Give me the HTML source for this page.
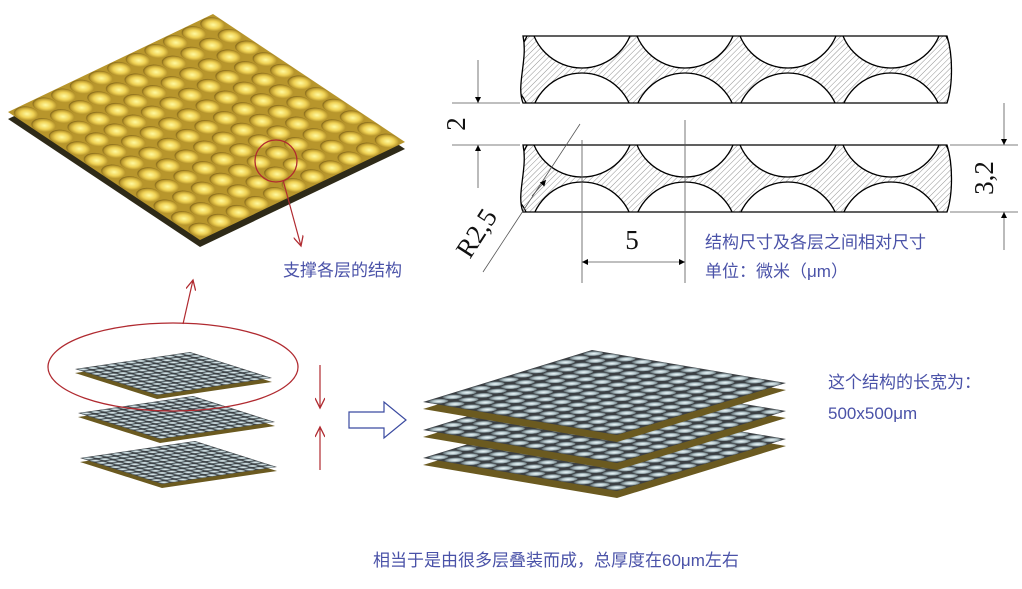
<!DOCTYPE html>
<html><head><meta charset="utf-8"><style>
html,body{margin:0;padding:0;background:#fff;}
svg{display:block;}
.cn{font-family:"Liberation Sans","Noto Sans CJK SC",sans-serif;fill:#4a52a8;font-size:17px;}
.sf{font-family:"Liberation Serif",serif;font-size:27px;fill:#111;}
</style></head><body>
<svg width="1022" height="589" viewBox="0 0 1022 589" xmlns="http://www.w3.org/2000/svg">
<defs>
 <radialGradient id="gg" cx="0.5" cy="0.55" r="0.55">
  <stop offset="0" stop-color="#fffaa0"/><stop offset="0.5" stop-color="#f0d255"/><stop offset="0.85" stop-color="#b8962c"/><stop offset="1" stop-color="#6e5514"/>
 </radialGradient>
 <pattern id="gp" patternUnits="userSpaceOnUse" width="0.0909" height="0.0909">
  <rect width="0.0909" height="0.0909" fill="#b8962c"/>
  <circle cx="0.0455" cy="0.0455" r="0.043" fill="url(#gg)"/>
 </pattern>
 <radialGradient id="sg" cx="0.5" cy="0.55" r="0.55">
  <stop offset="0" stop-color="#eef8fa"/><stop offset="0.5" stop-color="#b4c6cb"/><stop offset="0.85" stop-color="#6a777c"/><stop offset="1" stop-color="#3a4246"/>
 </radialGradient>
 <pattern id="sp" patternUnits="userSpaceOnUse" width="0.0833" height="0.0833">
  <rect width="0.0833" height="0.0833" fill="#3b3f43"/>
  <circle cx="0.0417" cy="0.0417" r="0.039" fill="url(#sg)"/>
 </pattern>
 <pattern id="hatch" patternUnits="userSpaceOnUse" width="4" height="4" patternTransform="rotate(45)">
  <rect width="4" height="4" fill="#fff"/><line x1="0" y1="0" x2="0" y2="4" stroke="#777" stroke-width="0.8"/>
 </pattern>
 <clipPath id="c1"><path d="M523,36 L947,36 C953,55 953,85 947,103 L523,103 C516,85 528,60 523,36Z"/></clipPath>
 <clipPath id="c2"><path d="M523,145 L947,145 C953,164 953,194 947,212 L523,212 C516,194 528,169 523,145Z"/></clipPath>
 <marker id="ar" viewBox="0 0 10 10" refX="10" refY="5" markerWidth="14" markerHeight="10" orient="auto" markerUnits="userSpaceOnUse"><path d="M0,0 L10,5 L0,10" fill="none" stroke="#b02a30" stroke-width="1.3"/></marker>
 <marker id="ab" viewBox="0 0 10 10" refX="10" refY="5" markerWidth="16" markerHeight="6" orient="auto" markerUnits="userSpaceOnUse"><path d="M0,0 L10,5 L0,10Z" fill="#000"/></marker>
</defs>

<!-- gold plate -->
<g transform="translate(0,7)"><g transform="matrix(205,-98,192,128,8,112)"><rect width="1" height="1" fill="#2e2a18"/></g></g>
<g transform="matrix(205,-98,192,128,8,112)"><rect width="1" height="1" fill="url(#gp)"/></g>

<!-- small stacked plates -->
<g transform="translate(0,4)"><g transform="matrix(115,-17,82,26,80,458)"><rect width="1" height="1" fill="#6b5a20"/></g></g>
<g transform="matrix(115,-17,82,26,80,458)"><rect width="1" height="1" fill="url(#sp)"/></g>
<g transform="translate(0,4)"><g transform="matrix(115,-17,82,26,78,413)"><rect width="1" height="1" fill="#6b5a20"/></g></g>
<g transform="matrix(115,-17,82,26,78,413)"><rect width="1" height="1" fill="url(#sp)"/></g>
<g transform="translate(0,4)"><g transform="matrix(115,-17,82,26,75,369)"><rect width="1" height="1" fill="#6b5a20"/></g></g>
<g transform="matrix(115,-17,82,26,75,369)"><rect width="1" height="1" fill="url(#sp)"/></g>

<!-- big stack -->
<g transform="translate(0,7)"><g transform="matrix(169,-52,194,33,423,458)"><rect width="1" height="1" fill="#6b5a20"/></g></g>
<g transform="matrix(169,-52,194,33,423,458)"><rect width="1" height="1" fill="url(#sp)"/></g>
<g transform="translate(0,7)"><g transform="matrix(169,-52,194,33,423,430)"><rect width="1" height="1" fill="#6b5a20"/></g></g>
<g transform="matrix(169,-52,194,33,423,430)"><rect width="1" height="1" fill="url(#sp)"/></g>
<g transform="translate(0,7)"><g transform="matrix(169,-52,194,33,423,402)"><rect width="1" height="1" fill="#6b5a20"/></g></g>
<g transform="matrix(169,-52,194,33,423,402)"><rect width="1" height="1" fill="url(#sp)"/></g>

<!-- red annotations -->
<circle cx="276" cy="161" r="21" fill="none" stroke="#b02a30" stroke-width="1.3"/>
<line x1="283" y1="180" x2="301" y2="246" stroke="#b02a30" stroke-width="1.2" marker-end="url(#ar)"/>
<line x1="183" y1="324" x2="193" y2="280" stroke="#b02a30" stroke-width="1.2" marker-end="url(#ar)"/>
<ellipse cx="173" cy="367" rx="125" ry="44" fill="none" stroke="#b02a30" stroke-width="1.3"/>
<line x1="320" y1="365" x2="320" y2="408" stroke="#b02a30" stroke-width="1.2" marker-end="url(#ar)"/>
<line x1="320" y1="470" x2="320" y2="427" stroke="#b02a30" stroke-width="1.2" marker-end="url(#ar)"/>
<path d="M349,412 L384,412 L384,402 L406,420 L384,438 L384,428 L349,428Z" fill="#fff" stroke="#3a4aa0" stroke-width="1.2"/>

<!-- technical drawing -->
<g clip-path="url(#c1)">
 <rect x="510" y="30" width="450" height="80" fill="url(#hatch)"/>
 <g fill="#fff" stroke="#000" stroke-width="1.3">
  <circle cx="479" cy="16" r="52"/><circle cx="582" cy="16" r="52"/><circle cx="685" cy="16" r="52"/><circle cx="788" cy="16" r="52"/><circle cx="891" cy="16" r="52"/><circle cx="994" cy="16" r="52"/>
  <circle cx="479" cy="125" r="52"/><circle cx="582" cy="125" r="52"/><circle cx="685" cy="125" r="52"/><circle cx="788" cy="125" r="52"/><circle cx="891" cy="125" r="52"/><circle cx="994" cy="125" r="52"/>
 </g>
</g>
<path d="M523,36 L947,36 C953,55 953,85 947,103 L523,103 C516,85 528,60 523,36Z" fill="none" stroke="#000" stroke-width="1.3"/>
<g clip-path="url(#c2)">
 <rect x="510" y="140" width="450" height="80" fill="url(#hatch)"/>
 <g fill="#fff" stroke="#000" stroke-width="1.3">
  <circle cx="479" cy="125" r="52"/><circle cx="582" cy="125" r="52"/><circle cx="685" cy="125" r="52"/><circle cx="788" cy="125" r="52"/><circle cx="891" cy="125" r="52"/><circle cx="994" cy="125" r="52"/>
  <circle cx="479" cy="234" r="52"/><circle cx="582" cy="234" r="52"/><circle cx="685" cy="234" r="52"/><circle cx="788" cy="234" r="52"/><circle cx="891" cy="234" r="52"/><circle cx="994" cy="234" r="52"/>
 </g>
</g>
<path d="M523,145 L947,145 C953,164 953,194 947,212 L523,212 C516,194 528,169 523,145Z" fill="none" stroke="#000" stroke-width="1.3"/>

<g stroke="#555" stroke-width="0.8" fill="none">
 <line x1="452" y1="103" x2="520" y2="103"/><line x1="452" y1="145" x2="520" y2="145"/>
 <line x1="950" y1="145" x2="1018" y2="145"/><line x1="950" y1="212" x2="1018" y2="212"/>
 <line x1="582" y1="140" x2="582" y2="283"/><line x1="685" y1="120" x2="685" y2="283"/>
 <line x1="580" y1="124" x2="483" y2="272"/>
</g>
<g stroke="#555" stroke-width="0.8">
 <line x1="478" y1="60" x2="478" y2="103" marker-end="url(#ab)"/>
 <line x1="478" y1="188" x2="478" y2="145" marker-end="url(#ab)"/>
 <line x1="1004" y1="103" x2="1004" y2="145" marker-end="url(#ab)"/>
 <line x1="1004" y1="250" x2="1004" y2="212" marker-end="url(#ab)"/>
 <line x1="634" y1="262" x2="582" y2="262" marker-end="url(#ab)"/>
 <line x1="634" y1="262" x2="685" y2="262" marker-end="url(#ab)"/>
 <line x1="532" y1="196" x2="546" y2="180" marker-end="url(#ab)"/>
</g>
<text class="sf" transform="translate(465,124) rotate(-90)" text-anchor="middle">2</text>
<text class="sf" transform="translate(993,178) rotate(-90)" text-anchor="middle">3,2</text>
<text class="sf" transform="translate(484,238) rotate(-57)" text-anchor="middle">R2,5</text>
<text class="sf" x="632" y="249" text-anchor="middle">5</text>

<text class="cn" x="705" y="248">结构尺寸及各层之间相对尺寸</text>
<text class="cn" x="705" y="277">单位：微米（μm）</text>
<text class="cn" x="283" y="276">支撑各层的结构</text>
<text class="cn" x="828" y="388">这个结构的长宽为：</text>
<text class="cn" x="828" y="419">500x500μm</text>
<text class="cn" x="373" y="566">相当于是由很多层叠装而成，总厚度在60μm左右</text>
</svg>
</body></html>
